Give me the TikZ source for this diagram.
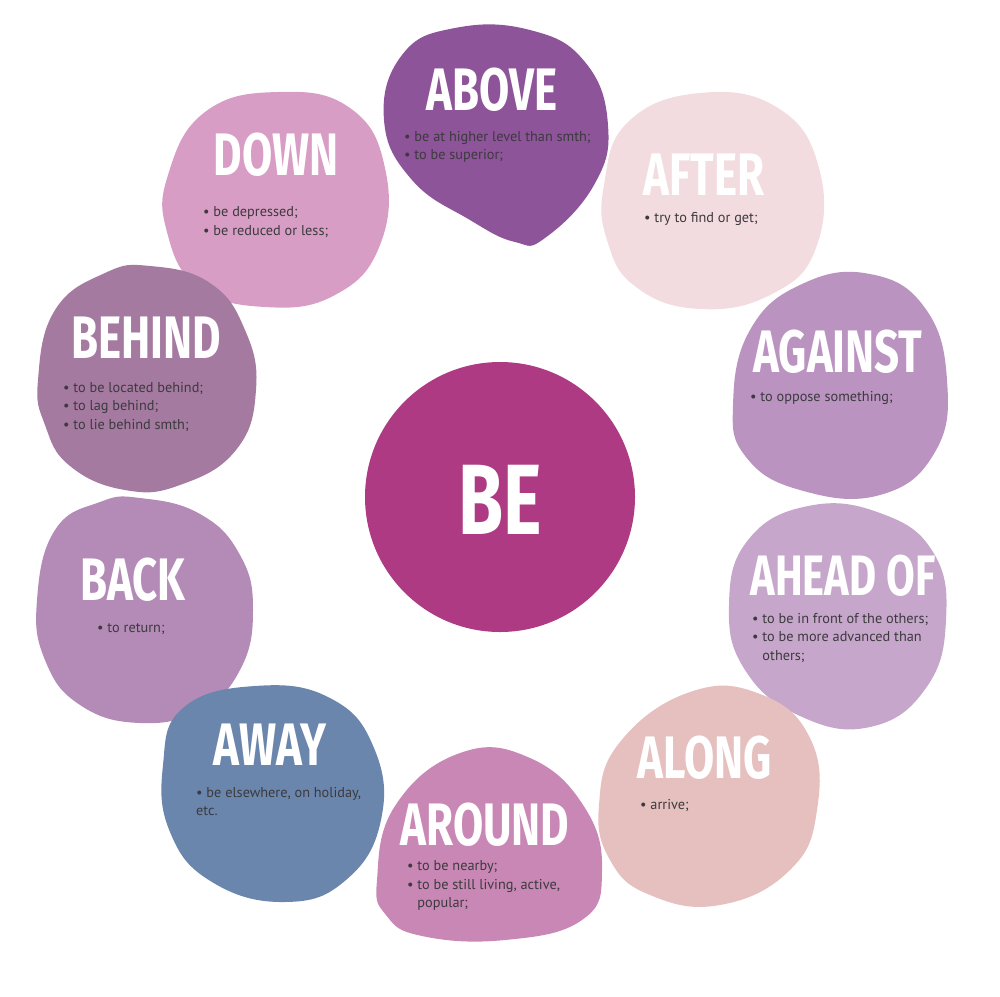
\documentclass[tikz,border=0pt]{standalone}
\usepackage{fontspec}
\usepackage{xcolor}
\usepackage{tikz}
\usetikzlibrary{positioning}

\setmainfont{PT Sans}
\newfontfamily\titlefont{Fira Sans}[FakeStretch=0.73]

\definecolor{beMag}{HTML}{AD3A83}
\definecolor{aboveCol}{HTML}{8E5499}
\definecolor{afterCol}{HTML}{F2DCDF}
\definecolor{againstCol}{HTML}{BA93C1}
\definecolor{aheadCol}{HTML}{C6A7CB}
\definecolor{alongCol}{HTML}{E6BFBF}
\definecolor{aroundCol}{HTML}{C887B4}
\definecolor{awayCol}{HTML}{6A86AD}
\definecolor{backCol}{HTML}{B38BB6}
\definecolor{behindCol}{HTML}{A57AA0}
\definecolor{downCol}{HTML}{D89DC4}
\definecolor{textGrey}{HTML}{3C3A3E}

\newcommand{\blob}[2]{\fill[#1] plot[smooth cycle, tension=0.75] coordinates {#2};}

\tikzset{
  word/.style={inner sep=0pt, text=white, font=\titlefont\bfseries\fontsize{60}{60}\selectfont},
  meaning/.style={inner sep=0pt, anchor=north west, yshift=10.3pt, align=left, text=textGrey,
    font=\fontsize{14.3}{18.5}\selectfont, execute at begin node=\vphantom{b}},
}

\begin{document}
\begin{tikzpicture}[x=1pt, y=-1pt]

  \useasboundingbox (0,0) rectangle (1000,996);

  % Blobs
  \blob{aboveCol}{(384,120) (402,55) (455,28) (530,30) (585,62) (608,125) (594,185) (545,238) (515,242) (470,220) (412,180)}
  \blob{downCol}{(168,175) (205,112) (278,92) (350,108) (385,168) (380,245) (335,295) (265,307) (198,287) (167,232)}
  \blob{afterCol}{(604,185) (628,122) (700,93) (778,108) (819,168) (816,248) (772,294) (700,309) (636,287) (607,240)}
  \blob{behindCol}{(38,380) (55,310) (105,273) (150,266) (210,283) (245,330) (256,390) (236,450) (180,485) (125,490) (70,466) (45,425)}
  \blob{againstCol}{(733,405) (750,330) (802,284) (870,274) (925,308) (947,380) (935,452) (880,495) (800,490) (746,457)}
  \blob{aheadCol}{(729,605) (748,540) (808,506) (880,513) (933,552) (946,620) (926,688) (870,727) (800,716) (745,670)}
  \blob{backCol}{(37,600) (55,530) (100,502) (140,498) (200,514) (240,555) (253,610) (240,670) (200,710) (140,723) (80,705) (45,660)}
  \blob{awayCol}{(163,765) (183,708) (255,686) (330,698) (374,748) (381,820) (346,880) (285,902) (212,882) (170,832)}
  \blob{aroundCol}{(377,880) (395,806) (460,753) (530,758) (585,808) (602,872) (582,920) (505,940) (422,936) (386,915)}
  \blob{alongCol}{(599,805) (620,742) (690,692) (760,694) (810,738) (817,810) (790,870) (720,905) (650,895) (610,860)}

  % Centre
  \fill[beMag] (500,497) circle (135);
  \node[word, font=\titlefont\bfseries\fontsize{100}{100}\selectfont] (be) at (500,500) {BE};

  % Words
  \node[word] (above) at (492,90) {ABOVE};
  \node[word] (down) at (276,155) {DOWN};
  \node[word] (after) at (704,175) {AFTER};
  \node[word] (behind) at (146,338) {BEHIND};
  \node[word] (against) at (838,352) {AGAINST};
  \node[word, font=\titlefont\bfseries\fontsize{57}{57}\selectfont] (ahead) at (843,576) {AHEAD\hspace{0.18em}OF};
  \node[word] (back) at (133,580) {BACK};
  \node[word] (away) at (270,745) {AWAY};
  \node[word] (around) at (485,825) {AROUND};
  \node[word] (along) at (705,758) {ALONG};

  % Meanings
  \node[meaning] (above-txt) at (404,141) {• be at higher level than smth;\\• to be superior;};
  \node[meaning] (down-txt) at (203,217) {• be depressed;\\• be reduced or less;};
  \node[meaning] (after-txt) at (644,222) {• try to find or get;};
  \node[meaning] (behind-txt) at (63,392) {• to be located behind;\\• to lag behind;\\• to lie behind smth;};
  \node[meaning] (against-txt) at (750,401) {• to oppose something;};
  \node[meaning] (ahead-txt) at (752,623) {• to be in front of the others;\\• to be more advanced than\\\phantom{• }others;};
  \node[meaning] (back-txt) at (97,633) {• to return;};
  \node[meaning] (away-txt) at (196,797) {• be elsewhere, on holiday,\\etc.};
  \node[meaning] (around-txt) at (407,871) {• to be nearby;\\• to be still living, active,\\\phantom{• }popular;};
  \node[meaning] (along-txt) at (640,809) {• arrive;};

\end{tikzpicture}
\end{document}
